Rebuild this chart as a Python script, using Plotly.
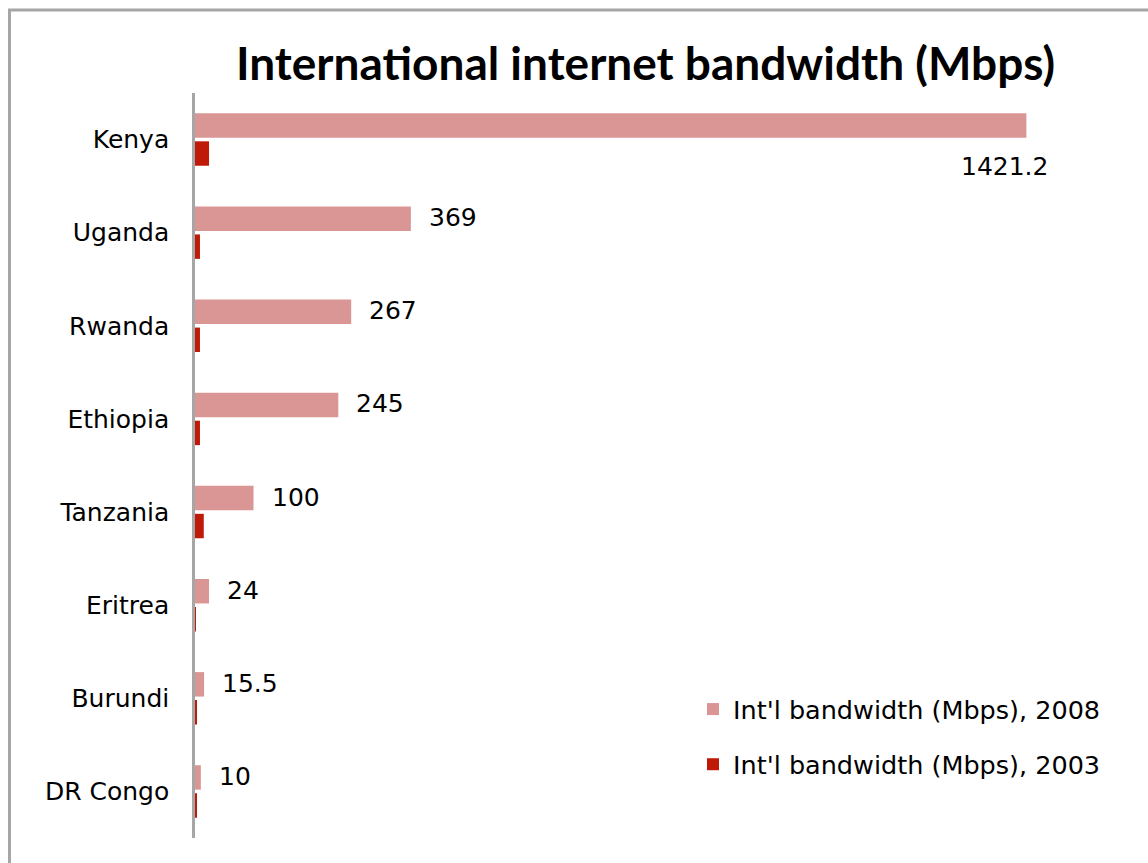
import plotly.graph_objects as go

# International bandwidth by country (Mbps)
countries = ["Kenya", "Uganda", "Rwanda", "Ethiopia", "Tanzania", "Eritrea", "Burundi", "DR Congo"]
bw_2008 = [1421.2, 369, 267, 245, 100, 24, 15.5, 10]
bw_2003 = [24, 8.5, 8.5, 8.5, 15, 1, 2.5, 2.5]
value_labels = ["1421.2", "369", "267", "245", "100", "24", "15.5", "10"]

name_2008 = "Int'l bandwidth (Mbps), 2008"
name_2003 = "Int'l bandwidth (Mbps), 2003"

color_2008 = "#DA9694"
color_2003 = "#BF1A08"
text_font = "DejaVu Sans"
x_max = 1600

W, H = 1148, 863
ML, MR, MT, MB = 195, 17, 93, 25
PW, PH = W - ML - MR, H - MT - MB

fig = go.Figure()
fig.add_trace(go.Bar(
    y=countries, x=bw_2008, orientation="h", name=name_2008,
    marker=dict(color=color_2008, line=dict(width=0)),
    legendgroup="a", hoverinfo="x+y",
))
fig.add_trace(go.Bar(
    y=countries, x=bw_2003, orientation="h", name=name_2003,
    marker=dict(color=color_2003, line=dict(width=0)),
    legendgroup="b", hoverinfo="x+y",
))

# value labels for the 2008 bars
annotations = []
for c, v, t in zip(countries, bw_2008, value_labels):
    if v > 0.8 * x_max:
        annotations.append(dict(x=v, y=c, xref="x", yref="y", text=t, showarrow=False,
                                xanchor="right", yanchor="middle", xshift=24, yshift=-27,
                                font=dict(family=text_font, size=25, color="#000")))
    else:
        annotations.append(dict(x=v, y=c, xref="x", yref="y", text=t, showarrow=False,
                                xanchor="left", yanchor="middle", xshift=16, yshift=15,
                                font=dict(family=text_font, size=25, color="#000")))

# frame around the chart area (only top and left edges fall inside the page)
def px_to_paper_x(px):
    return (px - ML) / PW

def px_to_paper_y(py):
    return (H - MB - py) / PH

shapes = [dict(type="rect", xref="paper", yref="paper",
               x0=px_to_paper_x(9.5), x1=px_to_paper_x(1200),
               y0=px_to_paper_y(920), y1=px_to_paper_y(10),
               line=dict(color="#A6A6A6", width=3), fillcolor="rgba(0,0,0,0)", layer="below")]

fig.update_layout(
    width=W, height=H,
    margin=dict(l=ML, r=MR, t=MT, b=MB, pad=0),
    paper_bgcolor="white", plot_bgcolor="white",
    barmode="group", bargap=0.40, bargroupgap=0.125,
    title=dict(text="<b>International internet bandwidth (Mbps)</b>",
               font=dict(family="Lato", size=46, color="#000"),
               x=645.5 / W, xanchor="center", xref="container",
               y=1 - 64 / H, yanchor="middle", yref="container"),
    xaxis=dict(range=[0, x_max], visible=False, fixedrange=True),
    yaxis=dict(autorange=False, range=[7.5, -0.5], showline=True, linecolor="#A6A6A6",
               linewidth=2.5, ticks="", showgrid=False, zeroline=False,
               ticklabelstandoff=18,
               tickfont=dict(family=text_font, size=25, color="#000")),
    legend=dict(x=px_to_paper_x(693), y=px_to_paper_y(686), xanchor="left", yanchor="top",
                font=dict(family=text_font, size=25.5, color="#000"),
                traceorder="grouped", tracegroupgap=19, bgcolor="rgba(0,0,0,0)",
                itemwidth=30),
    annotations=annotations,
    shapes=shapes,
    showlegend=True,
)

fig.write_html("out.html")
